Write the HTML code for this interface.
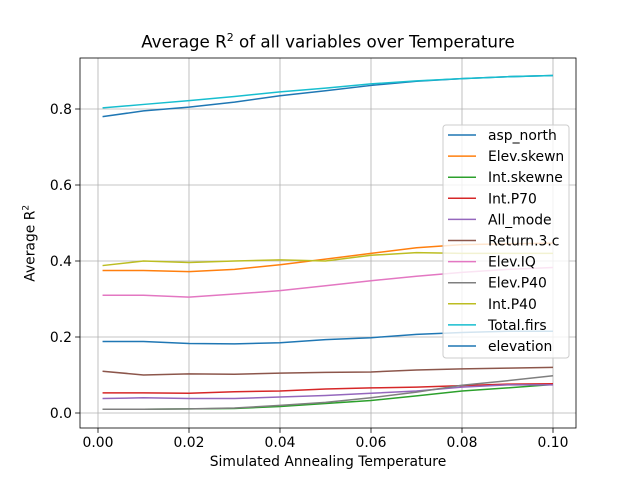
<!DOCTYPE html>
<html><head><meta charset="utf-8">
<style>body{margin:0;background:#fff}svg,div{font-family:"DejaVu Sans","Liberation Sans",sans-serif}</style>
</head><body>
<svg id="c" width="640" height="480"></svg>
<script>
const xs=[0.001,0.01,0.02,0.03,0.04,0.05,0.06,0.07,0.08,0.09,0.1];
const names=["asp_north","Elev.skewn","Int.skewne","Int.P70","All_mode","Return.3.c","Elev.IQ","Elev.P40","Int.P40","Total.firs","elevation"];
const colors=["#1f77b4","#ff7f0e","#2ca02c","#d62728","#9467bd","#8c564b","#e377c2","#7f7f7f","#bcbd22","#17becf","#1f77b4"];
const sAsp=[0.78,0.795,0.805,0.818,0.835,0.848,0.862,0.873,0.88,0.885,0.888];
const sSkew=[0.375,0.375,0.372,0.378,0.39,0.405,0.42,0.435,0.443,0.445,0.447];
const sIntSkew=[0.01,0.01,0.011,0.012,0.017,0.025,0.033,0.045,0.058,0.066,0.075];
const sP70=[0.053,0.053,0.052,0.056,0.058,0.063,0.066,0.068,0.072,0.076,0.077];
const sMode=[0.038,0.04,0.038,0.038,0.042,0.046,0.052,0.058,0.068,0.074,0.074];
const sRet=[0.11,0.1,0.103,0.102,0.105,0.107,0.108,0.113,0.116,0.118,0.12];
const sIQ=[0.31,0.31,0.305,0.313,0.322,0.335,0.348,0.36,0.37,0.378,0.383];
const sEP40=[0.01,0.01,0.011,0.013,0.02,0.028,0.04,0.055,0.073,0.085,0.098];
const sIP40=[0.388,0.4,0.396,0.4,0.403,0.4,0.415,0.422,0.42,0.42,0.42];
const sTot=[0.803,0.812,0.822,0.833,0.845,0.855,0.866,0.874,0.88,0.885,0.888];
const sElev=[0.188,0.188,0.183,0.182,0.185,0.193,0.198,0.207,0.212,0.215,0.215];
const series=[sAsp,sSkew,sIntSkew,sP70,sMode,sRet,sIQ,sEP40,sIP40,sTot,sElev];
const xTicks=[0,0.02,0.04,0.06,0.08,0.1];
const xLabels=["0.00","0.02","0.04","0.06","0.08","0.10"];
const yTicks=[0,0.2,0.4,0.6,0.8];
const yLabels=["0.0","0.2","0.4","0.6","0.8"];
const L=80,R=576,T=58,B=428;
const X=v=>98+v*4550, Y=v=>413-v*380;
const svg=document.getElementById('c');const NS="http://www.w3.org/2000/svg";
function el(t,a,p){const e=document.createElementNS(NS,t);for(const k in a)e.setAttribute(k,a[k]);(p||svg).appendChild(e);return e;}
xTicks.forEach((t,i)=>{
 const g=el('line',{x1:X(t),x2:X(t),y1:T,y2:B,stroke:'#b0b0b0','stroke-width':0.8});
 
 
 el('line',{x1:X(t),x2:X(t),y1:B,y2:B+4.9,stroke:'#000','stroke-width':0.8});
 const tx=el('text',{x:X(t),y:B+19,'font-size':13.9,'text-anchor':'middle'});tx.textContent=xLabels[i];
 
 
});
yTicks.forEach((t,i)=>{
 const g=el('line',{x1:L,x2:R,y1:Y(t),y2:Y(t),stroke:'#b0b0b0','stroke-width':0.8});
 
 
 el('line',{x1:L-4.9,x2:L,y1:Y(t),y2:Y(t),stroke:'#000','stroke-width':0.8});
 const tx=el('text',{x:L-8,y:Y(t)+5,'font-size':13.9,'text-anchor':'end'});tx.textContent=yLabels[i];
 
 
});
series.forEach((s,i)=>{
 const p=el('polyline',{points:s.map((v,j)=>X(xs[j])+','+Y(v)).join(' '),fill:'none',stroke:colors[i],'stroke-width':1.5});
 
 
});
const fr=el('rect',{x:L,y:T,width:R-L,height:B-T,fill:'none',stroke:'#000','stroke-width':0.8});


const lg=el('g',{});


el('rect',{x:443,y:125,width:126,height:233,rx:3,fill:'#fff','fill-opacity':0.8,stroke:'#ccc'},lg);
names.forEach((n,i)=>{
 const y=135+i*21.1;
 el('line',{x1:448,x2:476,y1:y,y2:y,stroke:colors[i],'stroke-width':1.5},lg);
 const t=el('text',{x:488,y:y+5,'font-size':13.9},lg);t.textContent=n;
 
 
});
</script>
<div style="position:absolute;left:0;top:0;width:640px;height:480px;pointer-events:none">
<div style="position:absolute;left:0;width:656px;top:31px;text-align:center;font-size:16.7px;white-space:nowrap">Average R<sup style="font-size:11px">2</sup> of all variables over Temperature</div>
<div style="position:absolute;left:0;width:656px;top:454px;text-align:center;font-size:13.9px">Simulated Annealing Temperature</div>
<div style="position:absolute;left:-20px;top:235px;width:100px;text-align:center;transform:rotate(-90deg);font-size:13.9px">Average R<sup style="font-size:9px">2</sup></div>
</div>
</body></html>
